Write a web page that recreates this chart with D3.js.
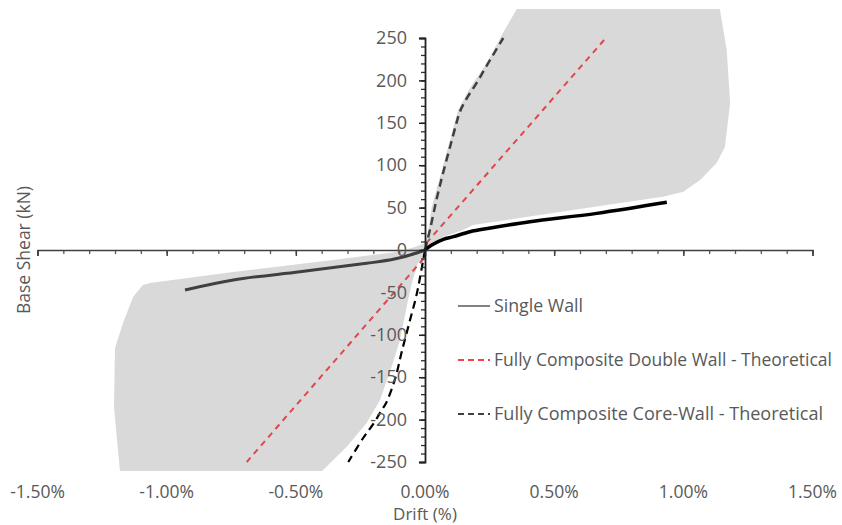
<!DOCTYPE html>
<html>
<head>
<meta charset="utf-8">
<script src="https://cdn.jsdelivr.net/npm/d3@7"></script>
<style>
  html, body { margin: 0; padding: 0; background: #fff; }
  svg { display: block; }
  text { font-family: "Open Sans", "Noto Sans", sans-serif; fill: #595959; }
</style>
</head>
<body>
<svg id="chart" width="842" height="525"></svg>
<script>
// ---------------- data ----------------
const xTickValues = [-1.5, -1.0, -0.5, 0, 0.5, 1.0, 1.5];
const yTickValues = [-250, -200, -150, -100, -50, 0, 50, 100, 150, 200, 250];

// Single wall (drift %, base shear kN)
const singleWallPos = [[0, 0], [0.026, 5.9], [0.071, 12.6], [0.11, 15.7], [0.174, 21.6], [0.252, 25.9], [0.406, 33.4], [0.665, 43.2], [0.936, 56.2]];
const singleWallNeg = [[0, 0], [-0.058, -5.9], [-0.123, -11], [-0.226, -15.7], [-0.484, -25.6], [-0.742, -35.4], [-0.929, -47.2]];

// Fully composite double wall - theoretical
const doubleWallPos = [[0.005, 8], [0.70, 250]];
const doubleWallNeg = [[-0.005, -10], [-0.69, -250]];

// Fully composite core-wall - theoretical
const coreWallPos = [[0, 0], [0.02, 25], [0.045, 60], [0.071, 92], [0.1, 125], [0.122, 150], [0.135, 163], [0.16, 178], [0.2, 197], [0.24, 218], [0.303, 250]];
const coreWallNeg = [[0, 0], [-0.013, -22], [-0.032, -52], [-0.06, -85], [-0.09, -120], [-0.112, -148], [-0.13, -165], [-0.15, -180], [-0.17, -190], [-0.2, -205], [-0.24, -222], [-0.297, -250]];

// Grey envelope (drift %, base shear kN)
const envelope = [
  [0.366, 290], [1.138, 290], [1.168, 235.8], [1.181, 173.3], [1.161, 121.5], [1.129, 102.6],
  [1.065, 82.5], [1.0, 68.8], [0.921, 62.9], [0.755, 55.4], [0.186, 29.5], [0.147, 23.6],
  [0.070, 15.3], [0.008, 3.9], [-0.008, -7.9], [-0.027, -15.3], [-0.051, -38.9], [-0.071, -67.2],
  [-0.097, -106], [-0.124, -133], [-0.174, -177], [-0.226, -204], [-0.303, -232], [-0.418, -266.5],
  [-1.179, -266.5], [-1.204, -185], [-1.2, -115.6], [-1.169, -86], [-1.13, -55.4], [-1.092, -41.3],
  [-1.065, -38.9], [-0.743, -25.9], [-0.356, -11.8], [-0.105, -2], [-0.039, 3.5], [0, 8.3],
  [0.012, 20], [0.026, 50.7], [0.058, 86], [0.097, 129.7], [0.128, 165], [0.174, 191],
  [0.239, 220.5], [0.302, 256]
];

const legendItems = ["Single Wall", "Fully Composite Double Wall - Theoretical", "Fully Composite Core-Wall - Theoretical"];

// ---------------- drawing ----------------
const svg = d3.select("#chart");
const x = d3.scaleLinear().domain([-1.5, 1.5]).range([37.5, 812.5]);
const y = d3.scaleLinear().domain([-250, 250]).range([462, 38]);

const fmtX = v => (v < 0 ? "-" : "") + Math.abs(v).toFixed(2) + "%";
const fmtY = v => (v < 0 ? "-" : "") + Math.abs(v);

svg.append("defs").append("clipPath").attr("id", "plotClip")
  .append("rect").attr("x", 37.5).attr("y", 9).attr("width", 775).attr("height", 462);

const plot = svg.append("g").attr("clip-path", "url(#plotClip)");

plot.append("path").datum(envelope)
  .attr("d", d3.line().x(d => x(d[0])).y(d => y(d[1])).curve(d3.curveLinearClosed))
  .attr("fill", "#DAD9DA");

const line = d3.line().x(d => x(d[0])).y(d => y(d[1]));
const smooth = d3.line().x(d => x(d[0])).y(d => y(d[1])).curve(d3.curveCatmullRom.alpha(0.5));

// X axis (minor & major ticks)
const xAxisG = svg.append("g").attr("transform", `translate(0,${y(0)})`);
xAxisG.append("g").call(d3.axisBottom(x).tickValues(d3.range(-15, 16).map(v => v / 10)).tickSize(4).tickFormat(""))
  .call(g => { g.select(".domain").remove(); g.selectAll("line").attr("stroke", "#595959").attr("stroke-width", 1.3); });
xAxisG.append("g").call(d3.axisBottom(x).tickValues(xTickValues).tickSize(6).tickFormat(""))
  .call(g => { g.select(".domain").attr("stroke", "#404040").attr("stroke-width", 1.3); g.selectAll("line").attr("stroke", "#404040").attr("stroke-width", 1.5); });

// Y axis
const yAxisG = svg.append("g").attr("transform", `translate(${x(0)},0)`);
yAxisG.append("g").call(d3.axisLeft(y).tickValues(d3.range(-25, 26).map(v => v * 10)).tickSize(4).tickFormat(""))
  .call(g => { g.select(".domain").remove(); g.selectAll("line").attr("stroke", "#303030").attr("stroke-width", 1.3); });
yAxisG.append("g").call(d3.axisLeft(y).tickValues(yTickValues).tickSize(6).tickPadding(12).tickFormat(fmtY))
  .call(g => {
    g.select(".domain").attr("stroke", "#202020").attr("stroke-width", 1.8);
    g.selectAll("line").attr("stroke", "#202020").attr("stroke-width", 1.5);
    g.selectAll("text").attr("font-size", 18).attr("fill", "#595959").attr("font-family", "'Open Sans', sans-serif");
  });

// series lines
plot.append("path").datum(doubleWallPos).attr("d", line)
  .attr("fill", "none").attr("stroke", "#E0474C").attr("stroke-width", 2).attr("stroke-dasharray", "6,5");
plot.append("path").datum(doubleWallNeg).attr("d", line)
  .attr("fill", "none").attr("stroke", "#E0474C").attr("stroke-width", 2).attr("stroke-dasharray", "6,5");
plot.append("path").datum(coreWallPos).attr("d", smooth)
  .attr("fill", "none").attr("stroke", "#404040").attr("stroke-width", 2.5).attr("stroke-dasharray", "8,5");
plot.append("path").datum(coreWallNeg).attr("d", smooth)
  .attr("fill", "none").attr("stroke", "#000000").attr("stroke-width", 2.2).attr("stroke-dasharray", "8,5");
plot.append("path").datum(singleWallNeg).attr("d", smooth)
  .attr("fill", "none").attr("stroke", "#404040").attr("stroke-width", 3).attr("stroke-linejoin", "round");
plot.append("path").datum(singleWallPos).attr("d", smooth)
  .attr("fill", "none").attr("stroke", "#000000").attr("stroke-width", 3.5).attr("stroke-linejoin", "round");

// X tick labels at the bottom
svg.append("g").selectAll("text").data(xTickValues).join("text")
  .attr("x", d => x(d)).attr("y", 498).attr("text-anchor", "middle")
  .attr("font-size", 17.5).text(fmtX);

// axis titles
svg.append("text").attr("x", 425).attr("y", 520).attr("text-anchor", "middle").attr("font-size", 17).text("Drift (%)");
svg.append("text").attr("transform", "translate(30,250) rotate(-90)").attr("text-anchor", "middle").attr("font-size", 17.5).text("Base Shear (kN)");

// legend
const legendStyles = [
  { stroke: "#595959", dash: null, width: 1.5 },
  { stroke: "#FF0000", dash: "6,4", width: 1.5 },
  { stroke: "#000000", dash: "6,4", width: 1.5 }
];
const legendY = [306, 360, 414];
const legendW = [89, 338, 329];
const lg = svg.append("g");
legendItems.forEach((t, i) => {
  lg.append("line").attr("x1", 458).attr("x2", 490).attr("y1", legendY[i]).attr("y2", legendY[i])
    .attr("stroke", legendStyles[i].stroke).attr("stroke-width", legendStyles[i].width)
    .attr("stroke-dasharray", legendStyles[i].dash);
  lg.append("text").attr("x", 494).attr("y", legendY[i] + 6).attr("font-size", 18)
    .attr("textLength", legendW[i]).attr("lengthAdjust", "spacingAndGlyphs").text(t);
});
</script>
</body>
</html>
